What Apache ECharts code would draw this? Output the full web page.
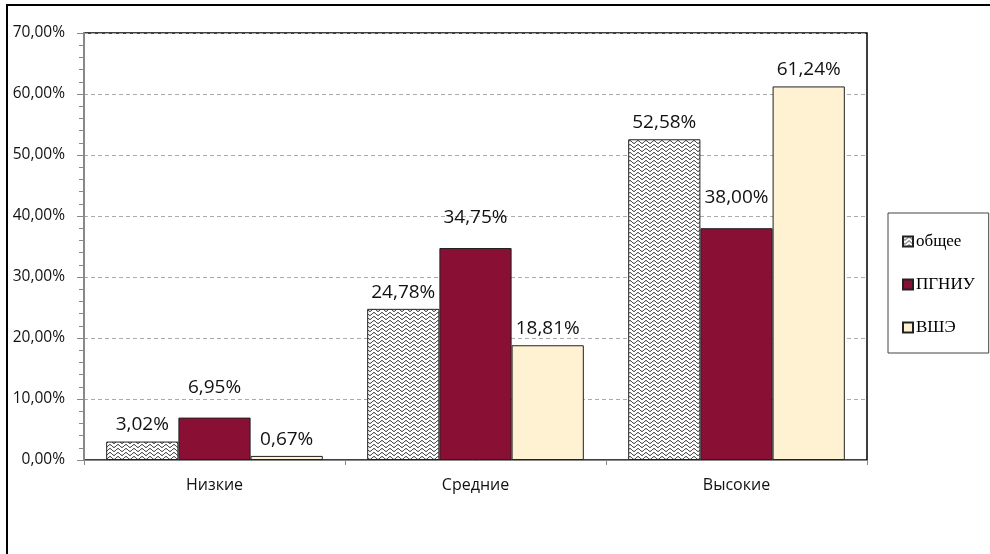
<!DOCTYPE html>
<html>
<head>
<meta charset="utf-8">
<script src="https://cdn.jsdelivr.net/npm/echarts@6/dist/echarts.min.js"></script>
<style>
  html, body { margin: 0; padding: 0; background: #fff; }
  #chart { width: 990px; height: 554px; }
</style>
</head>
<body>
<div id="chart"></div>
<script>
const categories = ['Низкие', 'Средние', 'Высокие']
const seriesNames = ['общее', 'ПГНИУ', 'ВШЭ']
const obshee = [3.02, 24.78, 52.58]
const pgniu = [6.95, 34.75, 38.0]
const vshe = [0.67, 18.81, 61.24]

// wavy hatch for the first series
function wavePattern() {
  const c = document.createElement('canvas')
  c.width = 8
  c.height = 4
  const ctx = c.getContext('2d')
  ctx.fillStyle = '#fff'
  ctx.fillRect(0, 0, 8, 4)
  ctx.strokeStyle = '#111'
  ctx.lineWidth = 1
  ctx.beginPath()
  for (let x = 0; x <= 8; x += 0.5) {
    const y = 2 + 1.4 * Math.sin((x / 8) * Math.PI * 2)
    if (x === 0) ctx.moveTo(x, y)
    else ctx.lineTo(x, y)
  }
  ctx.stroke()
  return c
}

const fmt = (p) => p.value.toFixed(2).replace('.', ',') + '%'
const labelFont = '"Open Sans", Lato, sans-serif'

const chart = echarts.init(document.getElementById('chart'))
function barLabel(distance) {
  return {
    show: true,
    position: 'top',
    distance,
    formatter: fmt,
    fontFamily: labelFont,
    fontSize: 19,
    color: '#111',
  }
}
const option = {
  animation: false,
  graphic: [
    {
      type: 'rect',
      shape: { x: 7, y: 5, width: 1000, height: 600 },
      style: { fill: 'none', stroke: '#000', lineWidth: 2 },
      silent: true,
    },
  ],
  grid: {
    left: 84,
    right: 123,
    top: 33,
    bottom: 94,
    show: true,
    borderColor: '#000',
    borderWidth: 1.5,
  },
  legend: {
    orient: 'vertical',
    left: 888,
    top: 213,
    padding: [20, 14, 17, 14],
    itemGap: 26,
    itemWidth: 10,
    itemHeight: 10,
    icon: 'rect',
    borderColor: '#444',
    borderWidth: 1,
    textStyle: {
      fontFamily: '"Liberation Serif", "DejaVu Serif", serif',
      fontSize: 17,
      color: '#000',
      padding: [0, 0, 0, -2],
    },
    data: seriesNames,
  },
  xAxis: {
    type: 'category',
    data: categories,
    axisLine: { lineStyle: { color: '#888', width: 1 } },
    axisTick: { show: true, length: 5, lineStyle: { color: '#888' } },
    axisLabel: {
      margin: 17,
      fontFamily: labelFont,
      fontSize: 16,
      color: '#111',
    },
  },
  yAxis: {
    type: 'value',
    min: 0,
    max: 70,
    interval: 10,
    axisLine: { show: true, lineStyle: { color: '#888', width: 2 } },
    axisTick: { show: true, length: 7, lineStyle: { color: '#888' } },
    minorTick: { show: true, splitNumber: 5, length: 5, lineStyle: { color: '#888' } },
    splitLine: { lineStyle: { color: '#aaa', type: [4, 3] } },
    axisLabel: {
      margin: 19,
      formatter: (v) => v.toFixed(2).replace('.', ',') + '%',
      fontFamily: labelFont,
      fontSize: 15.5,
      color: '#111',
    },
  },
  series: [
    {
      name: seriesNames[0],
      type: 'bar',
      data: obshee,
      barGap: '0%',
      barCategoryGap: '17%',
      itemStyle: {
        color: { image: wavePattern(), repeat: 'repeat' },
        borderColor: '#222',
        borderWidth: 1,
      },
      label: barLabel(7),
    },
    {
      name: seriesNames[1],
      type: 'bar',
      data: pgniu,
      itemStyle: { color: '#8a0f35', borderColor: '#222', borderWidth: 1 },
      label: barLabel(21),
    },
    {
      name: seriesNames[2],
      type: 'bar',
      data: vshe,
      itemStyle: { color: '#fff2d2', borderColor: '#222', borderWidth: 1 },
      label: barLabel(7),
    },
  ],
}
chart.setOption(option)
</script>
</body>
</html>
